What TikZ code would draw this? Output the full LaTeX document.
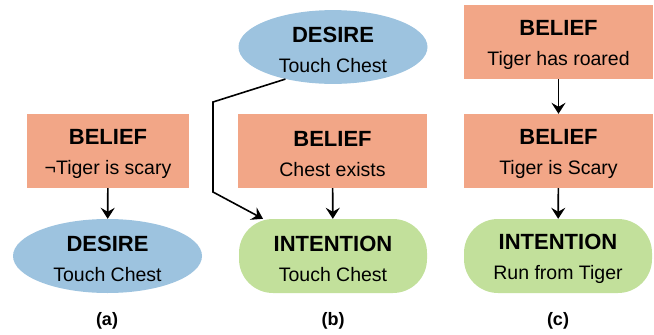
\documentclass[tikz,border=0pt]{standalone}
\usepackage{fontspec}
\setmainfont{Liberation Sans}
\usetikzlibrary{shapes.geometric,arrows.meta}
\definecolor{beliefc}{HTML}{F2A687}
\definecolor{desirec}{HTML}{9DC3DF}
\definecolor{intentc}{HTML}{C2E09B}
\newcommand{\ttl}[1]{{\fontsize{22}{30}\selectfont\bfseries\rule{0pt}{22pt}#1}}
\begin{document}
\begin{tikzpicture}[x=1pt,y=-1pt,
  base/.style={inner sep=0pt,align=center,font=\fontsize{19.5}{30}\selectfont,minimum width=189pt,minimum height=74pt},
  beliefbox/.style={base,rectangle,fill=beliefc},
  desirebox/.style={base,ellipse,fill=desirec},
  intentbox/.style={base,rectangle,rounded corners=34pt,fill=intentc,minimum width=188pt},
  conn/.style={line width=1.6pt,-{Stealth[length=11pt,width=14pt,inset=4pt]}},
  sublabel/.style={font=\fontsize{18}{20}\selectfont\bfseries}
]
\useasboundingbox (0,0) rectangle (654,335);
% (a)
\node[beliefbox,minimum width=162pt] (ab) at (108,151) {\ttl{BELIEF}\\¬Tiger is scary};
\node[desirebox] (ad) at (107.5,256) {\ttl{DESIRE}\\Touch Chest};
\draw[conn] (ab) -- (ad);
\node[sublabel] (la) at (107,321) {(a)};
% (b)
\node[desirebox,minimum height=72pt] (bd) at (333,47) {\ttl{DESIRE}\\Touch Chest};
\node[beliefbox] (bb) at (332.5,151) {\ttl{BELIEF}\\Chest exists};
\node[intentbox] (bi) at (333,256) {\ttl{INTENTION}\\Touch Chest};
\coordinate (k1) at (213,102);
\coordinate (k2) at (213,192);
\draw[conn] (bd.214) -- (k1) -- (k2) -- (bi.152);
\draw[conn] (bb) -- (bi);
\node[sublabel] (lb) at (333,321) {(b)};
% (c)
\node[beliefbox] (cb1) at (558.5,42) {\ttl{BELIEF}\\Tiger has roared};
\node[beliefbox] (cb2) at (558.5,151) {\ttl{BELIEF}\\Tiger is Scary};
\node[intentbox] (ci) at (558,256) {\ttl{INTENTION}\\Run from Tiger};
\draw[conn] (cb1) -- (cb2);
\draw[conn] (cb2) -- (ci);
\node[sublabel] (lc) at (558,321) {(c)};
\end{tikzpicture}
\end{document}
